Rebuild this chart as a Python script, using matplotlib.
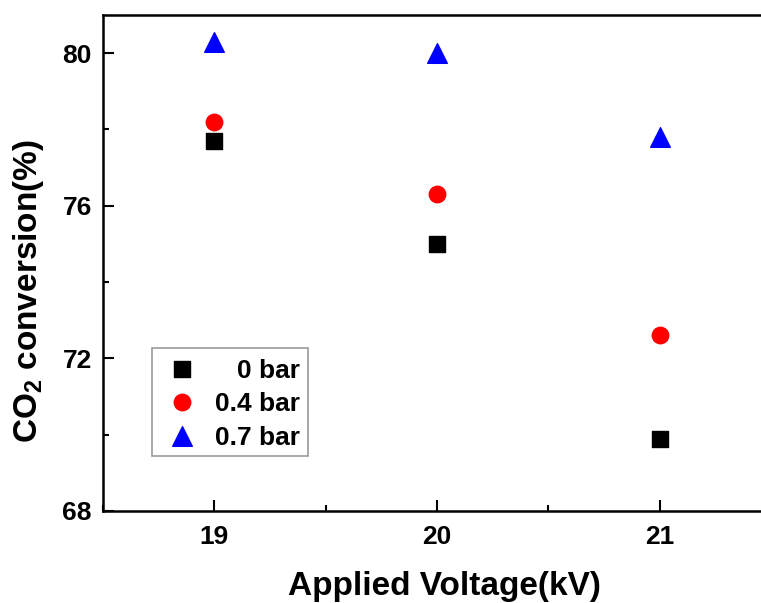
import matplotlib
matplotlib.use("Agg")
import matplotlib.pyplot as plt
from matplotlib.ticker import MultipleLocator

voltage = [19, 20, 21]
conv_0bar = [77.7, 75.0, 69.9]
conv_04bar = [78.2, 76.3, 72.6]
conv_07bar = [80.3, 80.0, 77.8]
labels = ["0 bar", "0.4 bar", "0.7 bar"]

plt.rcParams['font.family'] = ['Liberation Sans', 'DejaVu Sans']
plt.rcParams['font.weight'] = 'bold'
plt.rcParams['mathtext.fontset'] = 'custom'
plt.rcParams['mathtext.rm'] = 'Liberation Sans:bold'
plt.rcParams['mathtext.bf'] = 'Liberation Sans:bold'

fig = plt.figure(figsize=(7.61, 6.03), dpi=100)
W, H = 761, 603
AX_L, AX_R, AX_T, AX_B = 103, 771, 15, 511
ax = fig.add_axes([AX_L / W, 1 - AX_B / H, (AX_R - AX_L) / W, (AX_B - AX_T) / H])

ax.scatter(voltage, conv_0bar, marker='s', s=120, color='black', label=labels[0], zorder=3)
ax.scatter(voltage, conv_04bar, marker='o', s=140, color='red', label=labels[1], zorder=3)
ax.scatter(voltage, conv_07bar, marker='^', s=200, color='blue', label=labels[2], zorder=3)

ax.set_xlim(18.5, 21.5)
ax.set_ylim(68, 81)
ax.xaxis.set_major_locator(MultipleLocator(1))
ax.xaxis.set_minor_locator(MultipleLocator(0.5))
ax.yaxis.set_major_locator(MultipleLocator(4))
ax.yaxis.set_minor_locator(MultipleLocator(2))
ax.tick_params(which='both', direction='in', width=1.5, labelsize=19, top=False, right=False)
ax.tick_params(which='major', length=8)
ax.tick_params(which='minor', length=4)
ax.tick_params(axis='y', pad=8)
ax.tick_params(axis='x', pad=10)
for lab in ax.get_xticklabels() + ax.get_yticklabels():
    lab.set_fontweight('bold')
for sp in ax.spines.values():
    sp.set_linewidth(1.8)

ax.set_xlabel("Applied Voltage(kV)", fontsize=24, fontweight='bold')
ax.set_ylabel("CO$_2$ conversion(%)", fontsize=24, fontweight='bold')
ax.xaxis.set_label_coords((444 - AX_L) / (AX_R - AX_L), (AX_B - 571) / (AX_B - AX_T))
ax.yaxis.set_label_coords((46 - AX_L) / (AX_R - AX_L), (AX_B - 291) / (AX_B - AX_T))

leg = ax.legend(loc='upper left',
                bbox_to_anchor=((152 - AX_L) / (AX_R - AX_L), 1 - (348 - AX_T) / (AX_B - AX_T)),
                borderaxespad=0, frameon=True, fancybox=False, edgecolor='#808080',
                handlelength=1.6, handletextpad=0.45, borderpad=0.32, labelspacing=0.36,
                prop={'weight': 'bold', 'size': 19})
leg.get_frame().set_linewidth(1.2)

# right-align legend labels like the reference
fig.canvas.draw()
r = fig.canvas.get_renderer()
texts = leg.get_texts()
exts = [t.get_window_extent(r) for t in texts]
right = max(e.x1 for e in exts)
inv = fig.transFigure.inverted()
for t, e in zip(texts, exts):
    ycen = (e.y0 + e.y1) / 2
    xf, yf = inv.transform((right, ycen))
    fig.text(xf, yf, t.get_text(), ha='right', va='center_baseline', fontsize=19, fontweight='bold')
    t.set_visible(False)

fig.savefig("out.png", dpi=100)
